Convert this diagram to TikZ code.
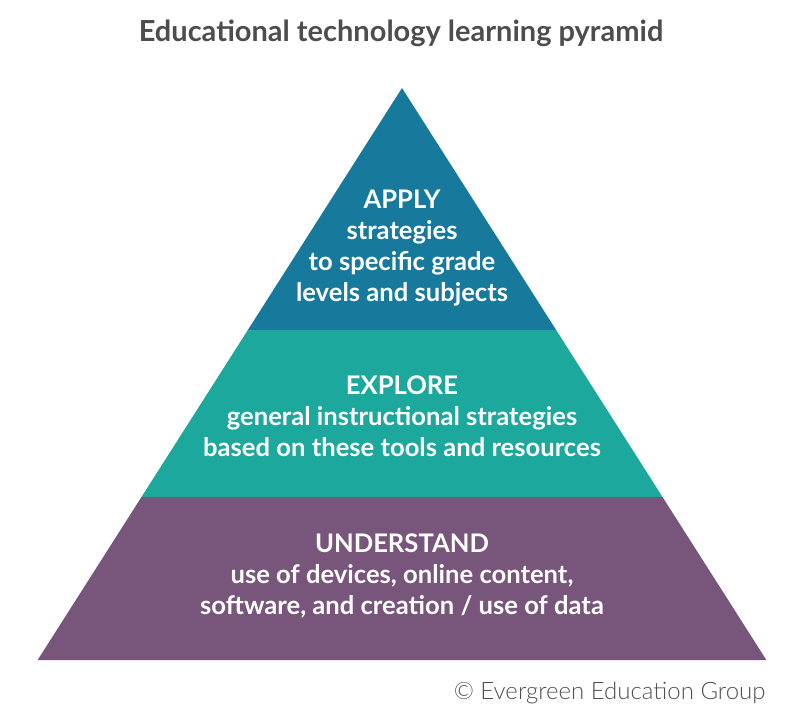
\documentclass[tikz,border=0pt]{standalone}
\usepackage{fontspec}
\setmainfont{Lato}
\newfontfamily\creditfont{Lato Light}
\definecolor{applyblue}{HTML}{177A9C}
\definecolor{exploregreen}{HTML}{1CA89C}
\definecolor{understandpurple}{HTML}{78557A}
\definecolor{titlegray}{HTML}{4D4D4D}
\definecolor{creditgray}{HTML}{505050}

\begin{document}
\begin{tikzpicture}[x=1pt,y=-1pt]

\tikzstyle{band} = [draw=none]
\tikzstyle{level} = [text=white,align=center,font=\bfseries\fontsize{25.6}{31}\selectfont]
\tikzstyle{heading} = [text=titlegray,font=\bfseries\fontsize{29}{32}\selectfont]
\tikzstyle{credit} = [text=creditgray,font=\creditfont\fontsize{24}{28}\selectfont]

\useasboundingbox (0,0) rectangle (800,720);

\def \cx {402}
\def \apex {88}
\def \slope {0.637}

% pyramid bands, top to bottom
\foreach \ytop/\ybot/\col in {88/330/applyblue, 330/497/exploregreen, 497/660/understandpurple}
{
  \pgfmathsetmacro{\wtop}{(\ytop-\apex)*\slope}
  \pgfmathsetmacro{\wbot}{(\ybot-\apex)*\slope}
  \path[band,fill=\col] (\cx-\wtop,\ytop) -- (\cx+\wtop,\ytop) -- (\cx+\wbot,\ybot) -- (\cx-\wbot,\ybot) -- cycle;
}

\node[heading] (title) at (401,33) {Educational technology learning pyramid};

\node[level] (apply) at (\cx,248) {APPLY\\strategies\\to specific grade\\levels and subjects};
\node[level] (explore) at (\cx,416) {EXPLORE\\general instructional strategies\\based on these tools and resources};
\node[level] (understand) at (\cx,576) {UNDERSTAND\\use of devices, online content,\\software, and creation / use of data};

\node[credit,anchor=east] (copyright) at (769,693) {© Evergreen Education Group};
\end{tikzpicture}
\end{document}
